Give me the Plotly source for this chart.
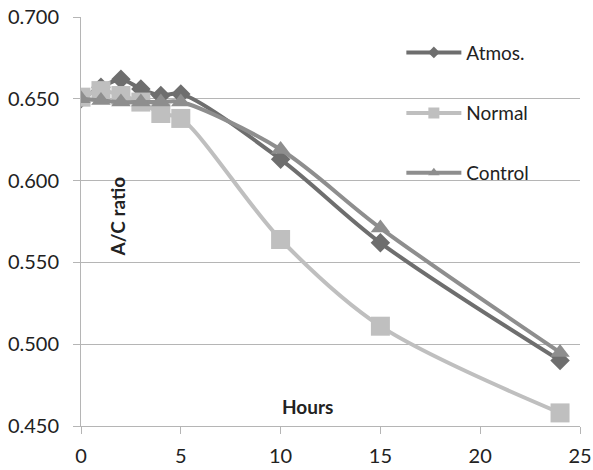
import plotly.graph_objects as go

# Sampling times (h) and A/C ratio per treatment
hours = [0, 1, 2, 3, 4, 5, 10, 15, 24]
atmos = [0.650, 0.657, 0.662, 0.656, 0.652, 0.653, 0.613, 0.562, 0.490]
normal = [0.651, 0.655, 0.652, 0.648, 0.641, 0.638, 0.564, 0.511, 0.458]
control = [0.650, 0.649, 0.648, 0.648, 0.648, 0.648, 0.619, 0.571, 0.495]

x_ticks = [0, 5, 10, 15, 20, 25]
y_ticks = [0.450, 0.500, 0.550, 0.600, 0.650, 0.700]

FONT = "Lato"
GRID = "#b5b5b5"

series = [
    ("Atmos.", atmos, "#6e6e6e", "diamond", 15, 9, "legend"),
    ("Normal", normal, "#bfbfbf", "square", 19, 11, "legend2"),
    ("Control", control, "#8e8e8e", "triangle-up", 17, 10, "legend3"),
]

fig = go.Figure()
for name, vals, color, symbol, msize, lsize, leg in series:
    fig.add_trace(go.Scatter(
        x=hours, y=vals, name=name, mode="lines+markers",
        line=dict(color=color, width=4, shape="spline", smoothing=0.9),
        marker=dict(symbol=symbol, size=msize, color=color),
        showlegend=False,
    ))
    # legend key with a smaller symbol
    fig.add_trace(go.Scatter(
        x=[None], y=[None], name=name, mode="lines+markers",
        line=dict(color=color, width=4),
        marker=dict(symbol=symbol, size=lsize, color=color),
        legend=leg, showlegend=True,
    ))

legend_common = dict(
    xref="paper", yref="paper", xanchor="left", yanchor="middle",
    bgcolor="rgba(0,0,0,0)", font=dict(family=FONT, size=19, color="#222222"),
    itemwidth=55,
)
fig.update_layout(
    legend=dict(x=0.642, y=0.913, **legend_common),
    legend2=dict(x=0.642, y=0.765, **legend_common),
    legend3=dict(x=0.642, y=0.619, **legend_common),
)

fig.add_annotation(
    text="<b>A/C ratio</b>", x=1.85, y=0.578, xref="x", yref="y",
    textangle=-90, showarrow=False,
    font=dict(family=FONT, size=19, color="#222222"),
)
fig.add_annotation(
    text="<b>Hours</b>", x=11.35, y=0.462, xref="x", yref="y",
    showarrow=False, font=dict(family=FONT, size=19, color="#222222"),
)

fig.update_xaxes(
    range=[0, 25], tickvals=x_ticks, ticktext=[str(v) for v in x_ticks],
    showgrid=False, showline=True, linecolor=GRID, linewidth=1,
    ticks="outside", ticklen=7, tickcolor=GRID, tickwidth=1,
    ticklabelstandoff=5, zeroline=False, automargin=False,
    tickfont=dict(family=FONT, size=20, color="#222222"),
)
fig.update_yaxes(
    range=[0.450, 0.700], tickvals=y_ticks,
    ticktext=[f"{v:.3f}" for v in y_ticks],
    showgrid=True, gridcolor=GRID, gridwidth=1,
    showline=True, linecolor=GRID, linewidth=1,
    ticks="outside", ticklen=7, tickcolor=GRID, tickwidth=1,
    ticklabelstandoff=10, zeroline=False, automargin=False,
    tickfont=dict(family=FONT, size=20, color="#222222"),
)

fig.update_layout(
    width=593, height=470,
    margin=dict(l=81, r=13, t=17, b=44, autoexpand=False),
    paper_bgcolor="white", plot_bgcolor="white",
    showlegend=True,
)

fig.write_html("out.html")
